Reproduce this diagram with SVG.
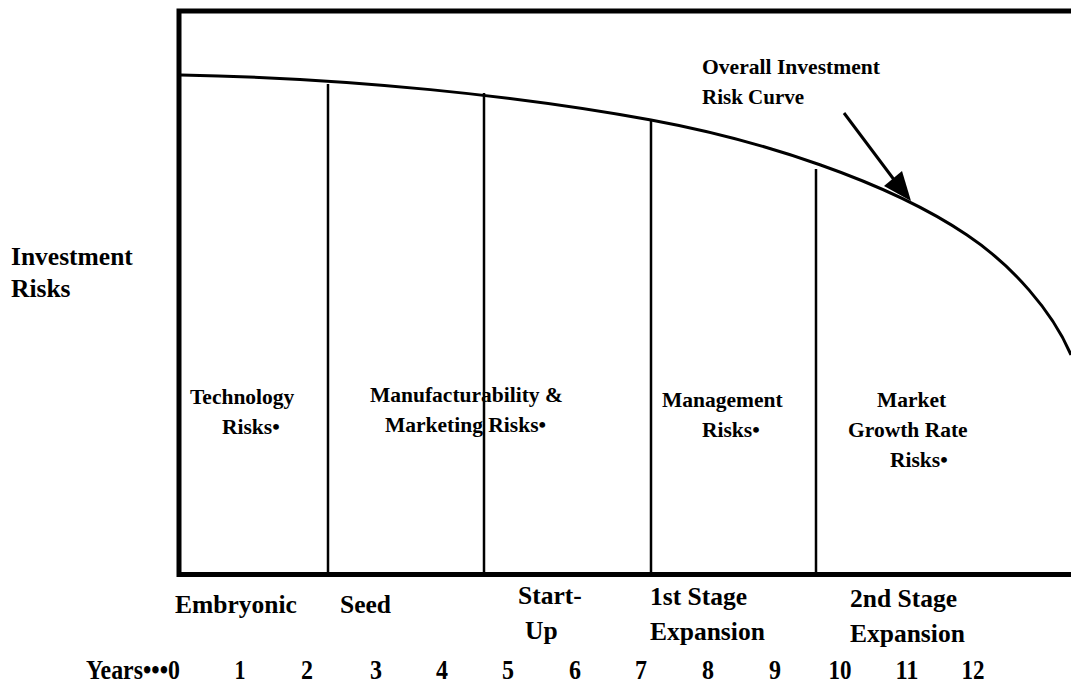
<svg xmlns="http://www.w3.org/2000/svg" width="1071" height="685" viewBox="0 0 1071 685">
  <style>
    text { font-family: "Liberation Serif", "Times New Roman", serif; font-weight: bold; fill: #000; }
    .axis { font-size: 25.5px; }
    .risk { font-size: 21.5px; }
    .note { font-size: 21px; }
    .yr { font-size: 27px; text-anchor: middle; }
    .frame { fill: none; stroke: #000; stroke-width: 5; }
    .divider { stroke: #000; stroke-width: 2.5; }
    .curve { fill: none; stroke: #000; stroke-width: 3; }
  </style>

  <!-- chart frame: top, left and bottom edges (open on the right) -->
  <g id="frame">
    <path class="frame" d="M1071,11 H179 V574.5 H1071"/>
  </g>

  <!-- overall risk curve and stage dividers -->
  <g id="connectors">
    <path class="curve" d="M181,75 C350,78 520,96 651,120 C760,140 887,181 967,235 C1012,265 1053,312 1071,355"/>
    <line class="divider" x1="328" y1="84" x2="328" y2="573"/>
    <line class="divider" x1="484" y1="93" x2="484" y2="572"/>
    <line class="divider" x1="651" y1="120" x2="651" y2="572"/>
    <line class="divider" x1="816" y1="169" x2="816" y2="572"/>
    <!-- pointer to the curve -->
    <line x1="844" y1="113" x2="895" y2="181" stroke="#000" stroke-width="3"/>
    <polygon points="884,186 902,171 911,201" fill="#000"/>
  </g>

  <g id="label-curve">
    <text class="note" x="702" y="74" textLength="178" lengthAdjust="spacingAndGlyphs">Overall Investment</text>
    <text class="note" x="702" y="104">Risk Curve</text>
  </g>

  <g id="label-yaxis">
    <text class="axis" x="11" y="265">Investment</text>
    <text class="axis" x="11" y="297">Risks</text>
  </g>

  <!-- risk types per stage -->
  <g id="risk-technology">
    <text class="risk" x="190" y="404">Technology</text>
    <text class="risk" x="222" y="434">Risks•</text>
  </g>
  <g id="risk-manufacturing">
    <text class="risk" x="370" y="402">Manufacturability &amp;</text>
    <text class="risk" x="385" y="432">Marketing Risks•</text>
  </g>
  <g id="risk-management">
    <text class="risk" x="662" y="407">Management</text>
    <text class="risk" x="702" y="437">Risks•</text>
  </g>
  <g id="risk-market">
    <text class="risk" x="877" y="407">Market</text>
    <text class="risk" x="848" y="437">Growth Rate</text>
    <text class="risk" x="890" y="467">Risks•</text>
  </g>

  <!-- stage names -->
  <g id="stage-embryonic">
    <text class="axis" x="175" y="613">Embryonic</text>
  </g>
  <g id="stage-seed">
    <text class="axis" x="340" y="613">Seed</text>
  </g>
  <g id="stage-startup">
    <text class="axis" x="518" y="604">Start-</text>
    <text class="axis" x="525" y="639">Up</text>
  </g>
  <g id="stage-first">
    <text class="axis" x="650" y="605">1st Stage</text>
    <text class="axis" x="650" y="640">Expansion</text>
  </g>
  <g id="stage-second">
    <text class="axis" x="850" y="607">2nd Stage</text>
    <text class="axis" x="850" y="642">Expansion</text>
  </g>

  <!-- year scale -->
  <g id="years">
    <text x="86" y="679" font-size="27" textLength="94" lengthAdjust="spacingAndGlyphs">Years•••0</text>
    <text class="yr" x="240" y="679" textLength="11" lengthAdjust="spacingAndGlyphs">1</text>
    <text class="yr" x="307" y="679" textLength="12" lengthAdjust="spacingAndGlyphs">2</text>
    <text class="yr" x="376" y="679" textLength="12" lengthAdjust="spacingAndGlyphs">3</text>
    <text class="yr" x="442" y="679" textLength="12" lengthAdjust="spacingAndGlyphs">4</text>
    <text class="yr" x="508" y="679" textLength="12" lengthAdjust="spacingAndGlyphs">5</text>
    <text class="yr" x="575" y="679" textLength="12" lengthAdjust="spacingAndGlyphs">6</text>
    <text class="yr" x="641" y="679" textLength="12" lengthAdjust="spacingAndGlyphs">7</text>
    <text class="yr" x="708" y="679" textLength="12" lengthAdjust="spacingAndGlyphs">8</text>
    <text class="yr" x="775" y="679" textLength="12" lengthAdjust="spacingAndGlyphs">9</text>
    <text class="yr" x="840" y="679" textLength="23" lengthAdjust="spacingAndGlyphs">10</text>
    <text class="yr" x="907" y="679" textLength="23" lengthAdjust="spacingAndGlyphs">11</text>
    <text class="yr" x="973" y="679" textLength="23" lengthAdjust="spacingAndGlyphs">12</text>
  </g>
</svg>
